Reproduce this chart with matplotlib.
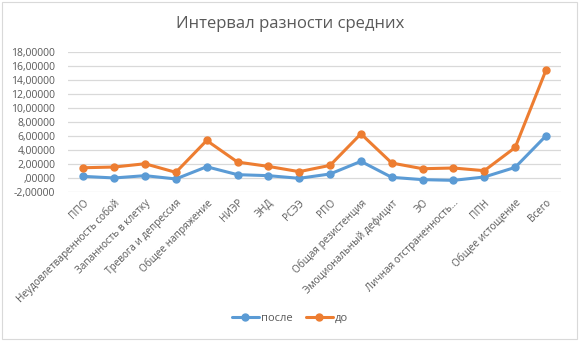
import numpy as np
import matplotlib
matplotlib.use("Agg")
import matplotlib.pyplot as plt
from matplotlib.ticker import FuncFormatter

plt.rcParams["font.family"] = ["Open Sans", "DejaVu Sans"]

TITLE = "Интервал разности средних"
CATEGORIES = ["ППО", "Неудовлетваренность собой", "Запанность в клетку",
              "Тревога и депрессия", "Общее напряжение", "НИЭР", "ЭНД", "РСЭЭ",
              "РПО", "Общая резистенция", "Эмоциональный дефицит", "ЭО",
              "Личная отстраненность...", "ППН", "Общее истощение", "Всего"]
AFTER = [0.23, 0.00, 0.33, -0.14, 1.60, 0.47, 0.33, -0.05,
         0.57, 2.37, 0.09, -0.24, -0.34, 0.14, 1.51, 6.02]
BEFORE = [1.46, 1.56, 2.03, 0.80, 5.35, 2.27, 1.65, 0.90,
          1.80, 6.30, 2.13, 1.32, 1.42, 1.04, 4.35, 15.40]
SERIES = [("после", AFTER, "#5b9bd5"), ("до", BEFORE, "#ed7d31")]
YTICKS = np.arange(-2, 19, 2)

TXT = "#595959"


def fmt(v, _pos):
    s = f"{v:.5f}".replace(".", ",")
    if s.startswith("0,"):
        s = s[1:]
    elif s.startswith("-0,"):
        s = "-" + s[2:]
    return s


fig = plt.figure(figsize=(5.8, 3.41), dpi=100)
ax = fig.add_axes([0.117, 0.437, 0.851, 0.411])
x = np.arange(len(CATEGORIES))
for name, vals, col in SERIES:
    ax.plot(x, vals, color=col, lw=2.2, marker="o", ms=5, label=name,
            solid_capstyle="round", zorder=3)

ax.set_xlim(-0.5, len(CATEGORIES) - 0.5)
ax.set_ylim(-2, 18)
ax.set_yticks(YTICKS)
ax.yaxis.set_major_formatter(FuncFormatter(fmt))
ax.grid(axis="y", color="#d9d9d9", lw=0.9, zorder=0)
for s in ax.spines.values():
    s.set_visible(False)
ax.tick_params(axis="y", length=0, labelsize=7.5, labelcolor=TXT, pad=9)
ax.tick_params(axis="x", length=0, labelsize=7.2, labelcolor=TXT, pad=4)
ax.set_xticks(x)
ax.set_xticklabels(CATEGORIES, rotation=45, ha="right", va="top",
                   rotation_mode="anchor")

fig.text(0.5, 0.93, TITLE, ha="center", va="center", fontsize=12, color=TXT)
fig.legend(loc="center", bbox_to_anchor=(0.5, 0.066), ncol=2, frameon=False,
           fontsize=8, labelcolor=TXT, handlelength=2.4, handletextpad=0.2,
           columnspacing=1.2)

# chart area border
fig.patches.append(plt.Rectangle((0.004, 0.006), 0.99, 0.988,
                                 transform=fig.transFigure, fill=False,
                                 edgecolor="#d9d9d9", lw=0.8))
fig.savefig("out.png", dpi=100)
